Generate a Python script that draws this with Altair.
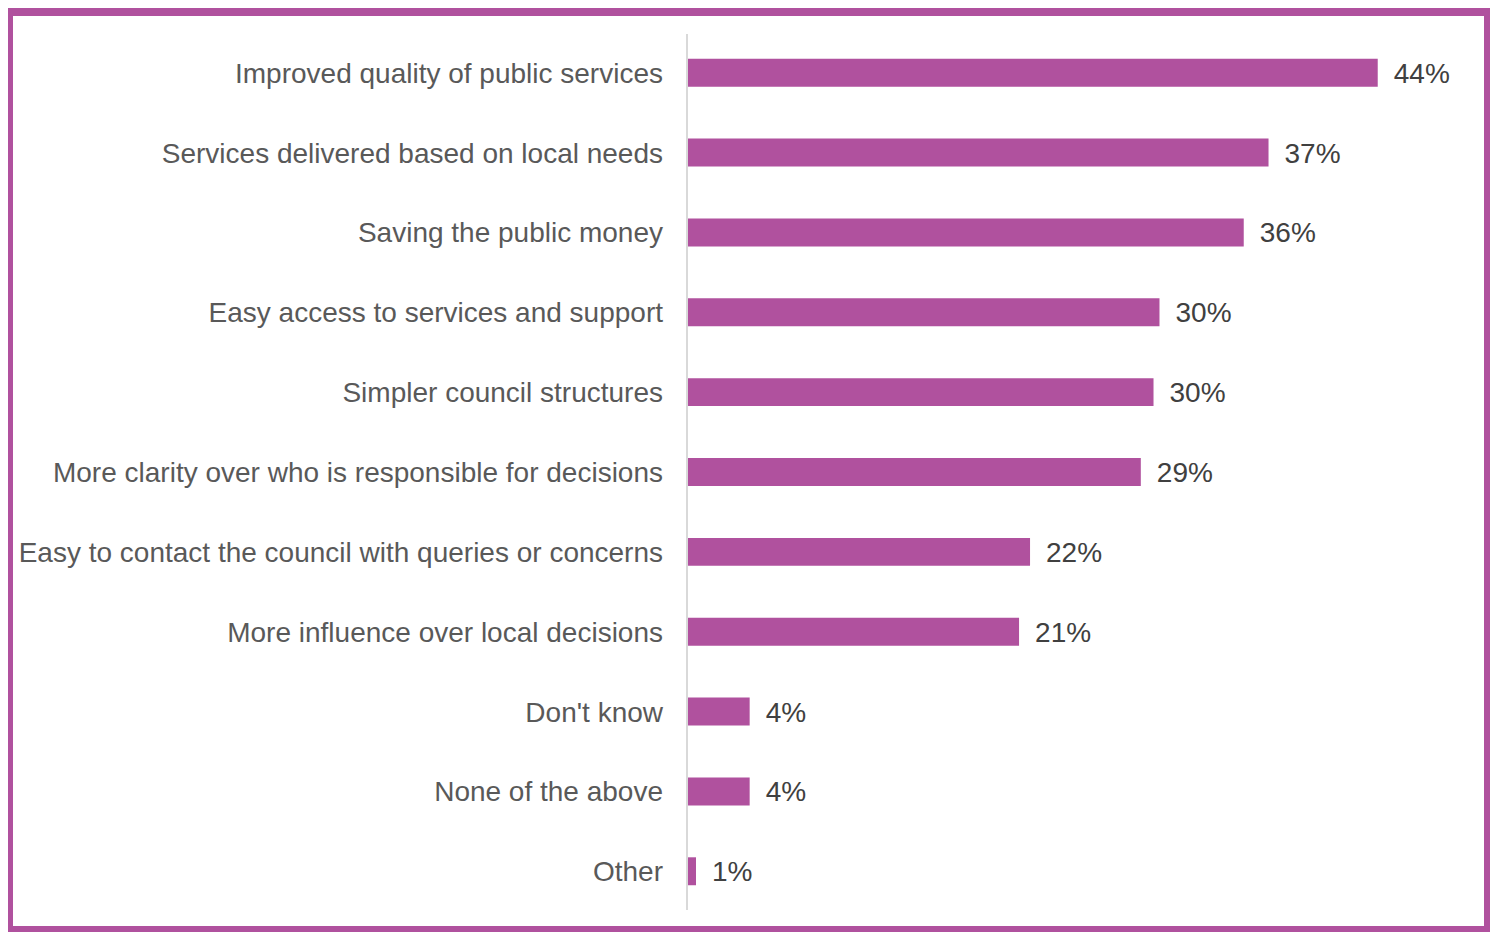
import altair as alt
import pandas as pd

categories = [
    "Improved quality of public services",
    "Services delivered based on local needs",
    "Saving the public money",
    "Easy access to services and support",
    "Simpler council structures",
    "More clarity over who is responsible for decisions",
    "Easy to contact the council with queries or concerns",
    "More influence over local decisions",
    "Don't know",
    "None of the above",
    "Other",
]
values = [43.96, 37.0, 35.42, 30.05, 29.67, 28.86, 21.8, 21.1, 3.93, 3.93, 0.51]
labels = ["44%", "37%", "36%", "30%", "30%", "29%", "22%", "21%", "4%", "4%", "1%"]

df = pd.DataFrame({"category": categories, "value": values, "label": labels})

BAR = "#B0519E"
FONT = "Liberation Sans"
FS = 28

W = 784.5
H = 876
PAD_L = 680
PAD_T = 26
TOTAL_W = 1482
TOTAL_H = 924
PAD_R = TOTAL_W - PAD_L - W
PAD_B = TOTAL_H - PAD_T - H

y = alt.Y(
    "category:N",
    sort=categories,
    axis=None,
    scale=alt.Scale(paddingInner=0.65, paddingOuter=0.31),
)
x = alt.X("value:Q", axis=None, scale=alt.Scale(domain=[0, 50]))

base = alt.Chart(df)

bars = base.mark_bar(color=BAR).encode(x=x, y=y)

value_text = base.mark_text(
    align="left", baseline="middle", dx=16, dy=2, font=FONT, fontSize=FS, color="#404040"
).encode(x=x, y=y, text="label:N")

cat_text = base.mark_text(
    align="right", baseline="middle", dx=-25, dy=2, font=FONT, fontSize=FS, color="#595959"
).encode(x=alt.value(0), y=y, text="category:N")

axis_line = base.mark_rule(color="#D9D9D9", strokeWidth=2).encode(
    x=alt.value(-1), y=alt.value(0), y2=alt.value(H)
)

one = pd.DataFrame({"a": [0]})
left_b = -PAD_L
top_b = -PAD_T
right_b = TOTAL_W - PAD_L
bottom_b = TOTAL_H - PAD_T

borders = [
    alt.Chart(one).mark_rect(color=BAR).encode(
        x=alt.value(left_b), x2=alt.value(left_b + 5),
        y=alt.value(top_b), y2=alt.value(bottom_b)),
    alt.Chart(one).mark_rect(color=BAR).encode(
        x=alt.value(right_b - 6), x2=alt.value(right_b),
        y=alt.value(top_b), y2=alt.value(bottom_b)),
    alt.Chart(one).mark_rect(color=BAR).encode(
        x=alt.value(left_b), x2=alt.value(right_b),
        y=alt.value(top_b), y2=alt.value(top_b + 8)),
    alt.Chart(one).mark_rect(color=BAR).encode(
        x=alt.value(left_b), x2=alt.value(right_b),
        y=alt.value(bottom_b - 6), y2=alt.value(bottom_b)),
]

chart = alt.layer(axis_line, bars, value_text, cat_text, *borders).properties(
    width=W,
    height=H,
    padding={"left": PAD_L, "top": PAD_T, "right": PAD_R, "bottom": PAD_B},
    autosize=alt.AutoSizeParams(type="none"),
    background="white",
).configure_view(stroke=None)

chart.save("out.html", embed_options={"renderer": "svg", "actions": False})
